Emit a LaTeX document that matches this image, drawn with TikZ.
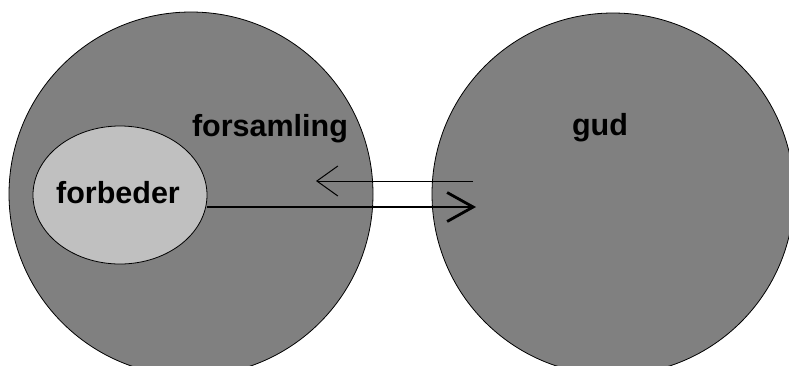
\documentclass[tikz,border=0pt]{standalone}
\usepackage{fontspec}
\setmainfont{Liberation Sans}
\usetikzlibrary{arrows.meta,shapes.geometric}
\definecolor{darkfill}{RGB}{128,128,128}
\definecolor{lightfill}{RGB}{192,192,192}
\begin{document}
\begin{tikzpicture}[x=1pt,y=-1pt,
  bigcircle/.style={circle, draw=black, line width=0.8pt, fill=darkfill, inner sep=0pt, minimum size=364pt},
  innerell/.style={ellipse, draw=black, line width=0.8pt, fill=lightfill, inner sep=0pt, minimum width=174pt, minimum height=138pt},
  lbl/.style={inner sep=0pt, font=\fontsize{30.5}{34}\selectfont\bfseries},
  thickarrow/.style={line width=2.8pt, -{Straight Barb[length=26pt,width=29pt,line width=2.8pt]}},
  thinarrow/.style={line width=1pt, -{Straight Barb[length=21pt,width=30pt,line width=1pt]}}
]
\useasboundingbox (0,0) rectangle (789,365);
\clip (0,0) rectangle (789,365);
\fill[white] (0,0) rectangle (789,365);
\node[bigcircle] (forsamling) at (191,194) {};
\node[bigcircle, minimum size=362pt] (gud) at (613,194) {};
\node[innerell] (forbeder) at (120,195) {};
\node[lbl] (forbederlabel) at (118,192.5) {forbeder};
\node[lbl] (forsamlinglabel) at (270,129) {forsamling};
\node[lbl] (gudlabel) at (600,127.5) {gud};
\coordinate (thicktip) at (476,207);
\coordinate (thinstart) at (473,181);
\coordinate (thintip) at (316,181);
\draw[thickarrow] (forbeder.east |- thicktip) -- (thicktip);
\draw[thinarrow] (thinstart) -- (thintip);
\end{tikzpicture}
\end{document}
